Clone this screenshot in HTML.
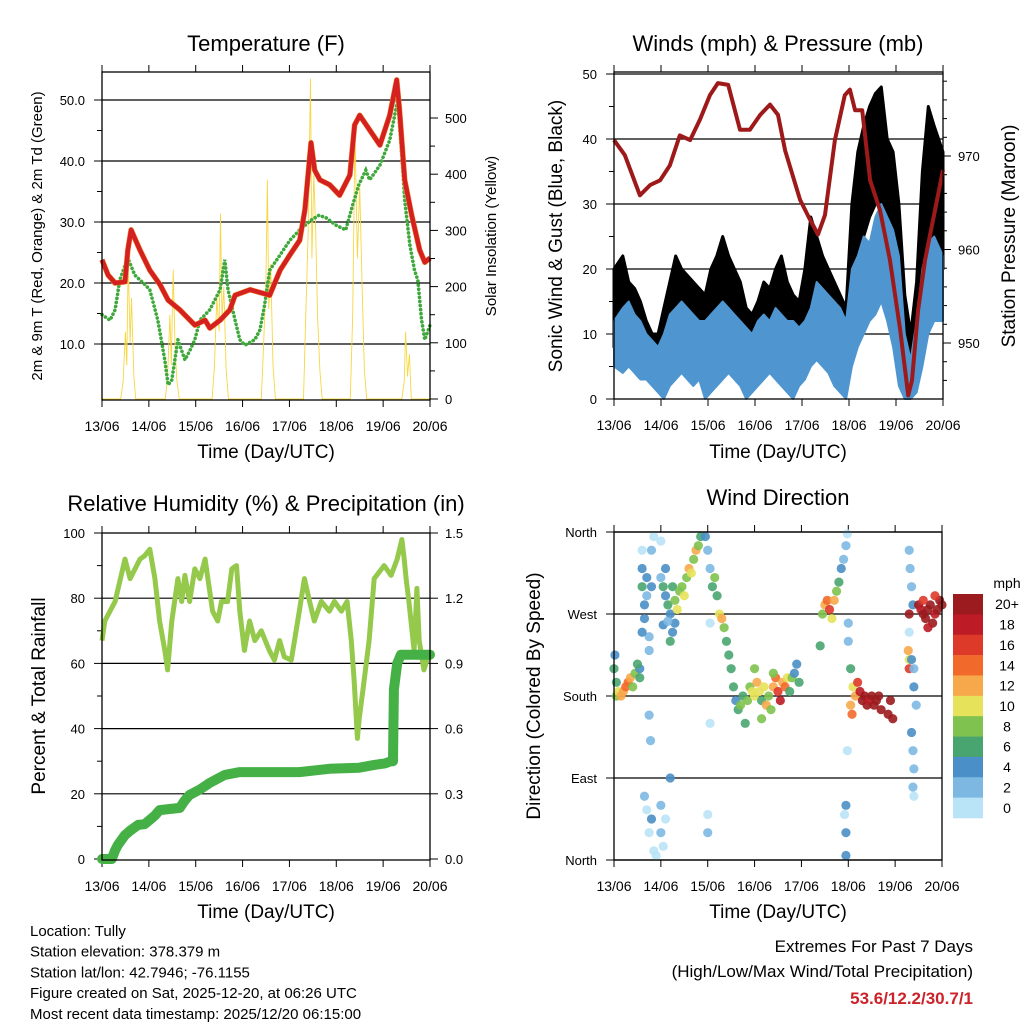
<!DOCTYPE html>
<html><head><meta charset="utf-8"><style>
body{margin:0;background:#fff;}
svg{display:block;font-family:"Liberation Sans",Arial,sans-serif;}
</style></head><body>
<svg id="s" width="1024" height="1024" viewBox="0 0 1024 1024" xmlns="http://www.w3.org/2000/svg"></svg>
<script>
// ---------- DATA ----------
const dayLabels=["13/06","14/06","15/06","16/06","17/06","18/06","19/06","20/06"];
const tempT=[0,.13,.28,.49,.55,.62,.81,1.02,1.24,1.41,1.66,1.98,2.2,2.3,2.52,2.73,2.84,3.16,3.58,3.8,4.01,4.22,4.33,4.46,4.54,4.65,4.86,5.07,5.29,5.39,5.5,5.71,5.93,6.14,6.29,6.35,6.46,6.61,6.78,6.89,7.0];
const tempV=[23.8,21.3,20.0,20.2,25.4,28.7,25.4,22.1,19.7,17.2,15.6,13.1,13.9,12.6,13.9,15.6,18.0,18.9,18.0,22.1,24.6,27.0,32.0,43.0,38.5,36.9,36.1,34.4,37.7,45.9,47.5,45.1,42.6,47.5,53.3,48.4,36.9,31.1,25.4,23.4,24.1];
const dewT=[0,.17,.28,.38,.49,.55,.7,.92,1.02,1.19,1.34,1.41,1.49,1.62,1.77,1.88,1.98,2.09,2.3,2.52,2.62,2.69,2.84,2.94,3.05,3.26,3.37,3.47,3.58,3.8,4.01,4.22,4.46,4.63,4.78,4.99,5.2,5.35,5.48,5.63,5.71,5.93,6.14,6.31,6.42,6.46,6.57,6.67,6.74,6.82,6.89,7.0];
const dewV=[14.8,13.9,15.6,20.5,22.9,24.1,21.3,19.7,18.9,13.9,7.4,3.3,4.1,10.7,7.4,9.0,10.7,13.9,15.6,18.9,23.8,18.9,13.9,10.7,9.8,10.7,12.3,16.4,22.1,24.6,27.0,28.7,30.3,31.1,30.7,29.5,28.7,32.8,36.1,38.5,36.9,39.3,43.4,50.0,38.5,33.6,26.2,22.1,20.5,13.9,10.7,13.1];
const solarT=[0,0.4,0.45,0.5,0.53,0.56,0.6,0.63,0.68,0.72,1.35,1.4,1.45,1.48,1.52,1.56,1.6,1.65,2.35,2.4,2.45,2.5,2.53,2.56,2.6,2.65,2.7,3.4,3.45,3.5,3.53,3.56,3.6,3.65,3.7,4.3,4.35,4.4,4.45,4.48,4.52,4.56,4.6,4.65,4.7,5.3,5.35,5.38,5.4,5.45,5.5,5.55,5.6,5.65,6.4,6.45,6.48,6.52,6.56,6.6,7.0];
const solarV=[0,0,30,120,60,250,100,180,40,0,0,40,150,60,230,90,30,0,0,60,180,120,330,140,200,50,0,0,100,220,390,160,240,60,0,0,150,300,570,250,400,300,150,50,0,0,150,350,480,250,380,200,50,0,0,30,120,40,80,0,0];
const windHi=[12,14,15,13,12,10,9,8, 10,13,14,15,14,13,12,12, 13,14,15,14,13,12,11,10, 12,13,12,14,13,12,12,11, 12,14,18,17,16,15,14,12, 20,22,25,24,28,30,28,26, 22,10,6,12,20,24,25,22];
const windLo=[5,4,5,4,3,3,2,1, 0,2,3,4,3,2,3,0, 1,2,3,4,3,2,0,1, 2,3,4,3,2,1,0,2, 3,5,6,5,4,2,1,0, 5,8,10,12,13,15,12,8, 2,0,0,1,5,10,12,12];
const gustHi=[20,22,18,17,15,12,10,10, 14,18,22,20,19,18,17,16, 20,22,25,22,20,18,14,13, 15,18,17,20,22,18,16,15, 20,28,25,22,20,18,16,14, 30,38,42,45,47,48,40,38, 30,16,10,18,35,45,42,38];
const gustLo=[8,10,10,9,8,6,5,3, 3,6,8,9,9,8,7,5, 6,8,10,9,8,6,3,4, 6,8,7,9,8,6,4,6, 8,10,12,11,10,8,6,4, 15,20,25,28,30,30,25,22, 8,3,2,6,15,22,22,20];
const presT=[0,.23,.55,.77,.98,1.19,1.4,1.62,1.83,2.04,2.21,2.43,2.68,2.89,3.11,3.32,3.49,3.64,3.96,4.17,4.34,4.49,4.7,4.91,5.02,5.13,5.28,5.45,5.66,5.87,6.09,6.26,6.34,6.47,6.62,6.83,7.0];
const presV=[971.7,970.1,965.8,966.9,967.4,969.0,972.2,971.7,973.9,976.5,977.8,977.6,972.8,972.8,974.4,975.5,974.4,970.6,965.3,963.2,961.6,963.7,971.7,976.5,977.1,974.9,974.9,967.4,964.2,958.9,951.4,944.4,946.0,953.5,958.9,964.2,968.5];
const rhT=[0,.06,.28,.49,.6,.81,.91,1.02,1.13,1.23,1.34,1.4,1.49,1.62,1.7,1.77,1.87,1.98,2.09,2.2,2.26,2.36,2.47,2.55,2.68,2.77,2.87,2.94,3.04,3.15,3.26,3.4,3.57,3.68,3.79,3.89,4.04,4.21,4.32,4.43,4.53,4.68,4.85,4.96,5.11,5.23,5.32,5.38,5.45,5.49,5.57,5.7,5.81,6.02,6.17,6.3,6.4,6.45,6.49,6.55,6.66,6.72,6.77,6.87,7.0];
const rhV=[67,73,79,92,86,92,93,95,86,73,64,58,73,86,79,87,79,89,86,92,86,76,73,79,79,89,90,76,64,73,67,70,64,61,67,62,61,76,86,79,73,79,76,79,76,79,67,55,37,43,52,67,86,90,87,92,98,92,86,79,64,83,67,58,64];
const prT=[0,.21,.28,.34,.49,.6,.77,.91,1.02,1.13,1.23,1.66,1.77,1.87,2.09,2.3,2.62,2.94,4.21,4.85,5.49,5.81,6.04,6.17,6.21,6.23,6.3,6.38,7.0];
const prV=[0,0,.04,.065,.11,.13,.157,.16,.18,.2,.225,.235,.27,.295,.32,.35,.387,.4,.4,.415,.42,.433,.44,.45,.45,.78,.9,.94,.94];
const dirT=[0,0.02,0.05,0.05,0.1,0.15,0.2,0.25,0.3,0.35,0.4,0.45,0.55,0.55,0.5,0.6,0.6,0.65,0.65,0.7,0.7,0.75,0.75,0.8,0.85,0.8,0.6,0.6,0.75,0.78,0.65,0.7,0.75,0.85,0.9,1.0,1.05,1.1,1.0,1.2,0.8,1.0,1.0,1.05,1.1,1.1,1.15,1.2,1.25,1.3,1.3,1.35,1.4,1.45,1.5,1.55,1.6,1.65,1.7,1.75,1.8,1.85,1.2,1.25,1.05,1.15,1.95,2.0,2.05,2.1,2.15,2.2,2.25,2.3,2.35,2.4,2.45,2.5,2.05,2.05,2.0,2.0,2.55,2.6,2.65,2.7,2.75,2.8,2.85,2.9,2.95,3.0,3.05,3.1,3.15,3.2,3.25,3.3,3.35,3.4,3.45,3.5,3.55,3.6,3.65,3.7,3.75,3.8,3.85,3.9,3.95,3.4,3.15,3.0,4.45,4.5,4.55,4.6,4.65,4.7,4.75,4.8,4.85,4.9,4.95,4.98,4.4,5.0,5.0,4.95,4.92,4.95,4.95,4.98,5.05,5.1,5.15,5.2,5.25,5.3,5.35,5.4,5.45,5.5,5.55,5.6,5.65,5.7,5.05,5.08,5.85,5.95,5.9,6.3,6.32,6.35,6.38,6.3,6.3,6.28,6.3,6.35,6.4,6.4,6.45,6.35,6.38,6.4,6.38,6.4,6.3,6.5,6.55,6.6,6.65,6.7,6.75,6.8,6.85,6.9,6.95,7.0,6.6,6.7,6.85];
const dirV=[210,225,195,180,185,180,185,190,195,200,190,205,200,210,215,320,300,280,265,290,310,245,230,340,355,300,250,340,159,131,70,55,30,10,5,30,15,45,60,90,45,350,310,300,290,320,280,270,300,260,285,275,295,300,290,310,320,315,330,340,345,355,240,250,258,262,355,340,320,300,310,290,270,265,255,240,225,210,260,150,50,30,190,175,165,170,180,150,175,190,185,180,195,185,175,190,170,180,165,190,200,185,175,195,190,200,185,200,205,215,195,205,155,210,270,280,285,275,265,285,295,305,320,330,345,358,235,260,240,60,50,30,5,120,210,190,180,195,185,175,180,170,175,180,170,175,180,165,170,160,160,155,175,340,320,300,280,250,220,230,210,220,210,190,170,140,120,100,80,70,270,280,275,270,265,275,280,260,270,275,285,280,285,255,290];
const dirS=[6,4,6,8,10,12,12,14,14,12,8,8,6,4,6,4,6,4,4,2,4,2,2,2,0,4,4,0,2,2,2,0,0,0,0,2,0,0,2,4,4,0,2,6,4,4,6,4,6,4,8,10,8,8,10,8,12,10,8,12,8,6,6,4,4,2,4,2,2,6,8,6,10,12,8,6,6,6,0,0,0,2,6,4,6,8,6,6,8,8,10,10,12,10,6,10,12,8,8,12,14,16,18,12,14,10,6,8,4,4,6,8,8,8,8,12,14,16,10,12,8,6,4,2,2,0,6,2,2,4,0,4,4,0,6,10,12,16,18,20,20,20,18,20,20,20,20,20,12,14,20,20,20,2,2,2,4,0,10,12,16,4,2,4,2,4,2,2,2,0,20,20,18,20,20,20,20,20,18,20,20,20,16,18,16];
const speedLabels=["0","2","4","6","8","10","12","14","16","18","20+"];
const speedColors=["#b9e3f6","#7db8e3","#4a8fc7","#49a56f","#7fc24f","#e6e25a","#f7a84a","#f26a2b","#de3a2a","#bd1b25","#9b1b1e"];

// ---------- DRAWING ----------
const NS="http://www.w3.org/2000/svg";
const S=document.getElementById('s');
function el(tag,attrs,parent,text){const e=document.createElementNS(NS,tag);for(const k in attrs)e.setAttribute(k,attrs[k]);if(text!==undefined)e.textContent=text;(parent||S).appendChild(e);return e;}
function lin(d0,d1,r0,r1){return v=>r0+(v-d0)*(r1-r0)/(d1-d0);}
function txt(x,y,s,size,anchor,name,extra){const t=el('text',Object.assign({x:x,y:y,'font-size':size,'text-anchor':anchor||'middle',fill:'#000'},extra||{}),S,s);
return t;}
function vtxt(x,y,s,size,name){const t=el('text',{x:0,y:0,'font-size':size,'text-anchor':'middle',fill:'#000',transform:`translate(${x},${y}) rotate(-90)`},S,s);
return t;}
function pathOf(ts,vs,X,Y){return ts.map((t,i)=>(i?'L':'M')+X(t).toFixed(1)+','+Y(vs[i]).toFixed(1)).join('');}
function frame(L,T,R,B,name){const r=el('rect',{x:L,y:T,width:R-L,height:B-T,fill:'none',stroke:'#000','stroke-width':1.3});
}
function xAxis(L,R,T,B,name){const X=lin(0,7,L,R);
 for(let d=0;d<=7;d++){const x=X(d);el('line',{x1:x,y1:B,x2:x,y2:B+7,stroke:'#000'});el('line',{x1:x,y1:T,x2:x,y2:T-7,stroke:'#000'});
  txt(x,B+31,dayLabels[d],14,'middle',name+'-tick-label');}
 return X;}
function hgrid(L,R,y,name){const l=el('line',{x1:L,y1:y,x2:R,y2:y,stroke:'#000','stroke-width':1.2});
}
function bandPath(hi,lo,X,Y){const n=hi.length;const tc=i=>(i+0.5)*7/n;
 let d='';for(let i=0;i<n;i++){const t=i===0?0:(i===n-1?7:tc(i));d+=(i?'L':'M')+X(t).toFixed(1)+','+Y(hi[i]).toFixed(1);}
 for(let i=n-1;i>=0;i--){const t=i===0?0:(i===n-1?7:tc(i));d+='L'+X(t).toFixed(1)+','+Y(lo[i]).toFixed(1);}
 return d+'Z';}

// ===== Panel 1: Temperature =====
(function(){
 const L=102,R=430,T=72,B=400;
 const X=xAxis(L,R,T,B,'temp-x');
 const Y=lin(10,50,344,100);
 const Ys=lin(0,500,399,118);
 [10,20,30,40,50].forEach(v=>{hgrid(L,R,Y(v),'temp-gridline');el('line',{x1:L-8,y1:Y(v),x2:L,y2:Y(v),stroke:'#000'});txt(L-17,Y(v)+5,v.toFixed(1),13,'end','temp-y-tick-label');});
 [15,25,35,45].forEach(v=>el('line',{x1:L-5,y1:Y(v),x2:L,y2:Y(v),stroke:'#000'}));
 [0,100,200,300,400,500].forEach(v=>{el('line',{x1:R,y1:Ys(v),x2:R+8,y2:Ys(v),stroke:'#000'});txt(R+15,Ys(v)+5,String(v),13,'start','solar-y-tick-label');});
 [50,150,250,350,450].forEach(v=>el('line',{x1:R,y1:Ys(v),x2:R+5,y2:Ys(v),stroke:'#000'}));
 const sol=el('path',{d:pathOf(solarT,solarV,X,Ys),fill:'none',stroke:'#f6d743','stroke-width':0.9});
 
 
 const dw=el('path',{d:pathOf(dewT,dewV,X,Y),fill:'none',stroke:'#3ea83b','stroke-width':3.6,'stroke-dasharray':'0.1 4','stroke-linecap':'round'});
 
 
 const or=el('path',{d:pathOf(tempT,tempV,X,Y),fill:'none',stroke:'#f08a2c','stroke-width':5.5,'stroke-linejoin':'round'});
 
 
 const tl=el('path',{d:pathOf(tempT,tempV,X,Y),fill:'none',stroke:'#d42020','stroke-width':4.5,'stroke-linejoin':'round'});
 
 
 frame(L,T,R,B,'temp-plot-frame');
 txt(266,51,'Temperature (F)',22,'middle','temp-title');
 txt(266,458,'Time (Day/UTC)',19,'middle','temp-x-axis-title');
 vtxt(42,236,'2m & 9m T (Red, Orange) & 2m Td (Green)',15,'temp-y-axis-title');
 vtxt(496,236,'Solar Insolation (Yellow)',15,'solar-y-axis-title');
})();

// ===== Panel 2: Winds =====
(function(){
 const L=614,R=943,T=72,B=399;
 const X=xAxis(L,R,T,B,'wind-x');
 const Y=lin(0,50,399,74);
 const Yp=lin(950,970,343,156);
 [10,20,30,40,50].forEach(v=>hgrid(L,R,Y(v),'wind-gridline'));
 [0,10,20,30,40,50].forEach(v=>{el('line',{x1:L-8,y1:Y(v),x2:L,y2:Y(v),stroke:'#000'});txt(L-17,Y(v)+5,String(v),13,'end','wind-y-tick-label');});
 [5,15,25,35,45].forEach(v=>el('line',{x1:L-5,y1:Y(v),x2:L,y2:Y(v),stroke:'#000'}));
 [950,960,970].forEach(v=>{el('line',{x1:R,y1:Yp(v),x2:R+8,y2:Yp(v),stroke:'#000'});txt(R+15,Yp(v)+5,String(v),13,'start','pressure-y-tick-label');});
 [946,948,952,954,956,958,962,964,966,968,972,974,976,978].forEach(v=>el('line',{x1:R,y1:Yp(v),x2:R+4,y2:Yp(v),stroke:'#000'}));
 const g=el('path',{d:bandPath(gustHi,gustLo,X,Y),fill:'#000',stroke:'#000','stroke-width':3,'stroke-linejoin':'round'});
 
 
 const w=el('path',{d:bandPath(windHi,windLo,X,Y),fill:'#4f96d1',stroke:'#4f96d1','stroke-width':2,'stroke-linejoin':'round'});
 
 
 const p=el('path',{d:pathOf(presT,presV,X,Yp),fill:'none',stroke:'#9e1a1a','stroke-width':4,'stroke-linejoin':'round'});
 
 
 frame(L,T,R,B,'wind-plot-frame');
 txt(778,51,'Winds (mph) & Pressure (mb)',22,'middle','wind-title');
 txt(778,458,'Time (Day/UTC)',19,'middle','wind-x-axis-title');
 vtxt(562,236,'Sonic Wind & Gust (Blue, Black)',19,'wind-y-axis-title');
 vtxt(1015,236,'Station Pressure (Maroon)',19,'pressure-y-axis-title');
})();

// ===== Panel 3: RH & precip =====
(function(){
 const L=102,R=430,T=533,B=860;
 const X=xAxis(L,R,T,B,'rh-x');
 const Y=lin(0,100,859,533);
 const Yp=lin(0,1.5,859,533);
 [20,40,60,80].forEach(v=>hgrid(L,R,Y(v),'rh-gridline'));
 [0,20,40,60,80,100].forEach(v=>{el('line',{x1:L-8,y1:Y(v),x2:L,y2:Y(v),stroke:'#000'});txt(L-17,Y(v)+5,String(v),13,'end','rh-y-tick-label');});
 [10,30,50,70,90].forEach(v=>el('line',{x1:L-5,y1:Y(v),x2:L,y2:Y(v),stroke:'#000'}));
 [0,0.3,0.6,0.9,1.2,1.5].forEach(v=>{el('line',{x1:R,y1:Yp(v),x2:R+8,y2:Yp(v),stroke:'#000'});txt(R+15,Yp(v)+5,v.toFixed(1),13,'start','precip-y-tick-label');});
 const rh=el('path',{d:pathOf(rhT,rhV,X,Y),fill:'none',stroke:'#95c94c','stroke-width':5,'stroke-linejoin':'round'});
 
 
 const pr=el('path',{d:pathOf(prT,prV,X,Yp),fill:'none',stroke:'#45b046','stroke-width':10,'stroke-linejoin':'round','stroke-linecap':'round'});
 
 
 frame(L,T,R,B,'rh-plot-frame');
 txt(266,511,'Relative Humidity (%) & Precipitation (in)',22,'middle','rh-title');
 txt(266,918,'Time (Day/UTC)',19,'middle','rh-x-axis-title');
 vtxt(45,696,'Percent & Total Rainfall',19,'rh-y-axis-title');
})();

// ===== Panel 4: Wind direction =====
(function(){
 const L=614,R=942,T=532,B=860;
 const X=xAxis(L,R,T,B,'dir-x');
 const Y=lin(0,360,860,532);
 [90,180,270].forEach(v=>hgrid(L,R,Y(v),'dir-gridline'));
 hgrid(L,R,T,'dir-gridline');hgrid(L,R,B,'dir-gridline');
 const names=["North","East","South","West","North"];
 [0,90,180,270,360].forEach((v,i)=>{el('line',{x1:L-8,y1:Y(v),x2:L,y2:Y(v),stroke:'#000'});txt(L-17,Y(v)+5,names[i],13,'end','dir-y-tick-label');});
 dirT.forEach((t,i)=>{const bin=Math.min(10,Math.max(0,Math.round(dirS[i]/2)));
  const c=el('circle',{cx:X(t),cy:Y(dirV[i]),r:4.6,fill:speedColors[bin],'fill-opacity':0.9});
  
  });
 frame(L,T,R,B,'dir-plot-frame');
 txt(778,505,'Wind Direction',22,'middle','dir-title');
 txt(778,918,'Time (Day/UTC)',19,'middle','dir-x-axis-title');
 vtxt(540,696,'Direction (Colored By Speed)',19,'dir-y-axis-title');
 const cbL=953,cbW=30,cbT=594,cbH=224/11;
 for(let i=0;i<11;i++){const k=10-i;const r=el('rect',{x:cbL,y:cbT+i*cbH,width:cbW,height:cbH+0.3,fill:speedColors[k]});
  
  
  txt(1007,cbT+i*cbH+cbH/2+5,speedLabels[k],14,'middle','colorbar-label');}
 txt(1007,588,'mph',14,'middle','colorbar-title');
})();

// ===== Footer =====
const info=["Location: Tully","Station elevation: 378.379 m","Station lat/lon: 42.7946; -76.1155","Figure created on Sat, 2025-12-20, at 06:26 UTC","Most recent data timestamp: 2025/12/20 06:15:00"];
info.forEach((s,i)=>txt(30,936+i*20.7,s,15,'start','station-info-line'));
txt(973,952,'Extremes For Past 7 Days',17,'end','extremes-title');
txt(973,977,'(High/Low/Max Wind/Total Precipitation)',17,'end','extremes-subtitle');
txt(973,1004,'53.6/12.2/30.7/1',17,'end','extremes-values',{fill:'#cc2229','font-weight':'bold'});
</script>
</body></html>
